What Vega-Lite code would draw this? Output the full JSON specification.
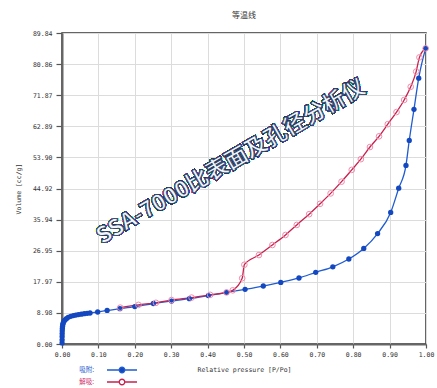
{
  "$schema": "https://vega.github.io/schema/vega-lite/v6.json",
  "width": 364,
  "height": 311,
  "autosize": {"type": "none"},
  "padding": {"left": 62, "top": 33, "right": 11, "bottom": 44},
  "background": "white",
  "title": {"text": "等温线", "fontSize": 8, "font": "Noto Sans CJK SC", "fontWeight": "normal", "color": "#333333", "offset": 10, "anchor": "middle"},
  "config": {
    "view": {"stroke": "#333333", "strokeWidth": 1.5},
    "axis": {
      "labelFont": "DejaVu Sans Mono", "labelFontSize": 6.5, "labelColor": "#333333",
      "titleFont": "DejaVu Sans Mono", "titleFontSize": 6.5, "titleFontWeight": "normal", "titleColor": "#333333",
      "gridColor": "#dcdcdc", "gridWidth": 1,
      "domainColor": "#666666", "domainWidth": 2,
      "tickColor": "#555555", "tickWidth": 1.2,
      "labelFlush": false, "labelOverlap": false
    }
  },
  "data": {"values": [
    {"series": "吸附:", "p": 0.0002, "v": 0.3},
    {"series": "吸附:", "p": 0.0003, "v": 1.2},
    {"series": "吸附:", "p": 0.0004, "v": 2.2},
    {"series": "吸附:", "p": 0.0005, "v": 3.0},
    {"series": "吸附:", "p": 0.0007, "v": 3.8},
    {"series": "吸附:", "p": 0.001, "v": 4.5},
    {"series": "吸附:", "p": 0.0015, "v": 5.1},
    {"series": "吸附:", "p": 0.002, "v": 5.6},
    {"series": "吸附:", "p": 0.003, "v": 6.0},
    {"series": "吸附:", "p": 0.005, "v": 6.5},
    {"series": "吸附:", "p": 0.008, "v": 6.9},
    {"series": "吸附:", "p": 0.012, "v": 7.3},
    {"series": "吸附:", "p": 0.017, "v": 7.7},
    {"series": "吸附:", "p": 0.024, "v": 8.0},
    {"series": "吸附:", "p": 0.031, "v": 8.2},
    {"series": "吸附:", "p": 0.038, "v": 8.35},
    {"series": "吸附:", "p": 0.045, "v": 8.5},
    {"series": "吸附:", "p": 0.053, "v": 8.62},
    {"series": "吸附:", "p": 0.061, "v": 8.75},
    {"series": "吸附:", "p": 0.069, "v": 8.85},
    {"series": "吸附:", "p": 0.077, "v": 8.96},
    {"series": "吸附:", "p": 0.098, "v": 9.24},
    {"series": "吸附:", "p": 0.124, "v": 9.7},
    {"series": "吸附:", "p": 0.159, "v": 10.2},
    {"series": "吸附:", "p": 0.2, "v": 10.8},
    {"series": "吸附:", "p": 0.251, "v": 11.7},
    {"series": "吸附:", "p": 0.301, "v": 12.4},
    {"series": "吸附:", "p": 0.35, "v": 13.1},
    {"series": "吸附:", "p": 0.402, "v": 14.0},
    {"series": "吸附:", "p": 0.452, "v": 14.9},
    {"series": "吸附:", "p": 0.503, "v": 15.8},
    {"series": "吸附:", "p": 0.553, "v": 16.75},
    {"series": "吸附:", "p": 0.601, "v": 17.8},
    {"series": "吸附:", "p": 0.651, "v": 19.07},
    {"series": "吸附:", "p": 0.697, "v": 20.7},
    {"series": "吸附:", "p": 0.744, "v": 22.3},
    {"series": "吸附:", "p": 0.788, "v": 24.55},
    {"series": "吸附:", "p": 0.829, "v": 27.6},
    {"series": "吸附:", "p": 0.867, "v": 31.9},
    {"series": "吸附:", "p": 0.903, "v": 38.0},
    {"series": "吸附:", "p": 0.925, "v": 45.0},
    {"series": "吸附:", "p": 0.945, "v": 51.6},
    {"series": "吸附:", "p": 0.954, "v": 58.8},
    {"series": "吸附:", "p": 0.967, "v": 67.8},
    {"series": "吸附:", "p": 0.98, "v": 76.8},
    {"series": "吸附:", "p": 0.999, "v": 85.4},
    {"series": "解吸:", "p": 0.999, "v": 85.4},
    {"series": "解吸:", "p": 0.982, "v": 82.8},
    {"series": "解吸:", "p": 0.973, "v": 78.7},
    {"series": "解吸:", "p": 0.958, "v": 74.3},
    {"series": "解吸:", "p": 0.94, "v": 70.5},
    {"series": "解吸:", "p": 0.919, "v": 67.0},
    {"series": "解吸:", "p": 0.895, "v": 63.5},
    {"series": "解吸:", "p": 0.871, "v": 60.0},
    {"series": "解吸:", "p": 0.846, "v": 56.9},
    {"series": "解吸:", "p": 0.821, "v": 53.4},
    {"series": "解吸:", "p": 0.796, "v": 50.3},
    {"series": "解吸:", "p": 0.768, "v": 46.9},
    {"series": "解吸:", "p": 0.738, "v": 43.5},
    {"series": "解吸:", "p": 0.709, "v": 40.5},
    {"series": "解吸:", "p": 0.679, "v": 37.5},
    {"series": "解吸:", "p": 0.645, "v": 34.4},
    {"series": "解吸:", "p": 0.614, "v": 31.5},
    {"series": "解吸:", "p": 0.578, "v": 28.6},
    {"series": "解吸:", "p": 0.541, "v": 25.7},
    {"series": "解吸:", "p": 0.501, "v": 22.9},
    {"series": "解吸:", "p": 0.495, "v": 19.0},
    {"series": "解吸:", "p": 0.469, "v": 15.5},
    {"series": "解吸:", "p": 0.452, "v": 14.9},
    {"series": "解吸:", "p": 0.407, "v": 14.2},
    {"series": "解吸:", "p": 0.356, "v": 13.4},
    {"series": "解吸:", "p": 0.301, "v": 12.7},
    {"series": "解吸:", "p": 0.258, "v": 11.9},
    {"series": "解吸:", "p": 0.21, "v": 11.3},
    {"series": "解吸:", "p": 0.16, "v": 10.5}
  ]},
  "encoding": {
    "x": {"field": "p", "type": "quantitative",
      "scale": {"domain": [0, 1], "nice": false, "zero": false},
      "axis": {"title": "Relative pressure [P/Po]", "values": [0, 0.1, 0.2, 0.3, 0.4, 0.5, 0.6, 0.7, 0.8, 0.9, 1.0], "format": ".2f", "tickSize": 4, "labelPadding": 3, "titlePadding": 9}},
    "y": {"field": "v", "type": "quantitative",
      "scale": {"domain": [0, 89.84], "nice": false},
      "axis": {"title": "Volume [cc/g]", "values": [0, 8.984, 17.968, 26.952, 35.936, 44.92, 53.904, 62.888, 71.872, 80.856, 89.84], "format": ".2f", "tickSize": 6, "labelPadding": 4, "titlePadding": 11}}
  },
  "layer": [
    {
      "mark": {"type": "line", "interpolate": "monotone", "strokeWidth": 1.3},
      "encoding": {
        "color": {"field": "series", "type": "nominal",
          "scale": {"domain": ["吸附:", "解吸:"], "range": ["#1f5bd1", "#c8204e"]},
          "legend": {
            "title": null, "orient": "none", "legendX": 54, "legendY": 331, "direction": "vertical",
            "symbolType": "M-3,0H-0.55M0.55,0H3M-0.55,0A0.55,0.55 0 1,1 0.55,0A0.55,0.55 0 1,1 -0.55,0Z",
            "symbolSize": 100, "symbolStrokeWidth": 1.3,
            "labelFont": "Noto Sans CJK SC", "labelFontSize": 6.5, "labelAlign": "right", "labelOffset": -34,
            "rowPadding": -1, "padding": 0,
            "encode": {
              "labels": {"update": {"fill": {"signal": "datum.value === '吸附:' ? '#2b5fcf' : '#d0306a'"}}},
              "symbols": {"update": {
                "fill": {"signal": "datum.value === '吸附:' ? '#1448c0' : '#ffffff'"},
                "stroke": {"signal": "datum.value === '吸附:' ? '#1f5bd1' : '#c8204e'"}}}
            }
          }}
      }
    },
    {
      "transform": [{"filter": "datum.series === '吸附:'"}],
      "mark": {"type": "circle", "size": 28, "color": "#1448c0", "opacity": 1}
    },
    {
      "transform": [{"filter": "datum.series === '解吸:'"}],
      "mark": {"type": "point", "shape": "circle", "size": 32, "stroke": "#f08cab", "strokeWidth": 1, "opacity": 1, "filled": false}
    },
    {
      "mark": {"type": "text", "text": "SSA-7000比表面及孔径分析仪", "font": "Noto Sans CJK SC", "fontWeight": "bold", "fontSize": 22.5, "angle": -30, "fill": "#f2f6fc", "stroke": "#22365e", "strokeWidth": 0.8, "align": "center", "baseline": "middle"},
      "encoding": {"x": {"datum": 0.464}, "y": {"datum": 52.6}}
    }
  ]
}
